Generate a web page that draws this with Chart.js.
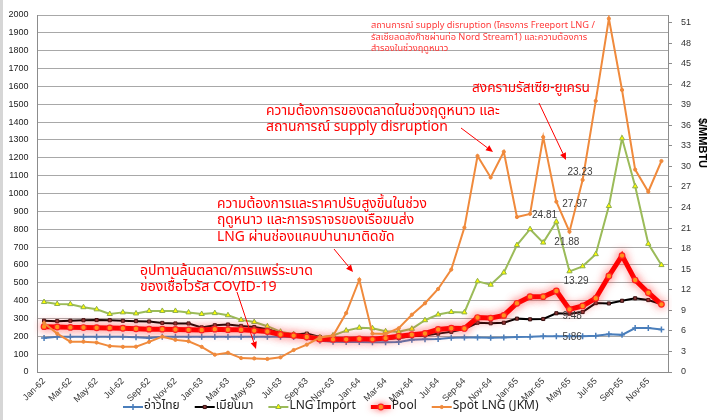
<!DOCTYPE html>
<html>
<head>
<meta charset="utf-8">
<script src="https://cdn.jsdelivr.net/npm/chart.js@4.4.1/dist/chart.umd.min.js"></script>
<style>
html,body{margin:0;padding:0;background:#fff;}
#c{display:block;}
</style>
</head>
<body>
<canvas id="c" width="708" height="420"></canvas>
<script>
// ---------- DATA ----------
const categories = [
 'Jan-62','Feb-62','Mar-62','Apr-62','May-62','Jun-62','Jul-62','Aug-62','Sep-62','Oct-62','Nov-62','Dec-62',
 'Jan-63','Feb-63','Mar-63','Apr-63','May-63','Jun-63','Jul-63','Aug-63','Sep-63','Oct-63','Nov-63','Dec-63',
 'Jan-64','Feb-64','Mar-64','Apr-64','May-64','Jun-64','Jul-64','Aug-64','Sep-64','Oct-64','Nov-64','Dec-64',
 'Jan-65','Feb-65','Mar-65','Apr-65','May-65','Jun-65','Jul-65','Aug-65','Sep-65','Oct-65','Nov-65','Dec-65'
];
const gulfThai = [190,197,198,198,198,197,197,195,190,197,198,198,
                  198,198,198,198,198,198,198,196,193,175,170,168,
                  168,167,167,168,180,183,185,192,193,193,192,193,
                  196,197,200,200,200,200,203,212,208,246,246,238];
const myanmar  = [287,285,287,290,291,290,287,285,283,275,272,272,
                  250,262,266,258,252,240,220,210,215,196,185,185,
                  185,185,185,190,200,205,215,225,240,276,273,276,
                  299,295,297,329,327,336,386,384,399,413,403,379];
const lngImport= [392,381,380,363,351,325,334,328,342,342,342,334,
                  325,330,318,292,280,256,226,212,205,195,205,232,
                  248,245,228,225,242,290,322,336,334,508,489,557,
                  711,800,725,842,564,592,660,930,1309,1040,718,599];
const pool     = [254,252,250,249,248,247,245,242,240,240,238,236,
                  235,240,237,237,232,227,210,204,196,184,183,183,
                  186,183,190,200,209,216,238,245,244,305,302,317,
                  385,422,422,454,351,370,413,538,652,515,444,379];
const spotJKM  = [274,215,170,170,165,145,141,142,169,198,180,172,
                  141,97,108,78,76,73,82,123,153,193,203,330,
                  517,215,213,245,321,385,465,574,809,1210,1090,1234,
                  868,886,1316,954,786,1076,1519,1980,1580,1134,1010,1182];
const seriesNames = ['อ่าวไทย','เมียนมา','LNG Import','Pool','Spot LNG (JKM)'];
const leftMax = 2000, leftStep = 100;
const rightMax = 52.1, rightStep = 3;
const rightTitle = '$/MMBTU';
// value labels: [text, category index (fractional), left-axis value]
const valueLabelText = ['23.23','27.97','24.81','21.88','13.29','9.48','5.86'];
const valueLabelIdx  = [40.8, 40.4, 38.1, 39.8, 40.5, 40.2, 40.2];
const valueLabelVal  = [1120, 941, 880, 728, 510, 314, 196];

// ---------- STYLE ----------
const THAI = '"Noto Sans Thai","Noto Sans Thai UI","Tahoma","Loma","Garuda","Noto Sans","DejaVu Sans",sans-serif';
const LAT = '"Liberation Sans",Arial,sans-serif';
const styles = [
  {color:'#4a7ebb', pointStyle:'cross', radius:3, bw:1.5, bg:'#4a7ebb', pb:'#4a7ebb', width:2},
  {color:'#000000', pointStyle:'rect', radius:2.2, bw:1, bg:'#8b3a3a', pb:'#3a1010', width:2},
  {color:'#9bbb59', pointStyle:'triangle', radius:3, bw:1, bg:'#ffff00', pb:'#8fae4f', width:2},
  {color:'#ff0000', pointStyle:'circle', radius:2.8, bw:1.2, bg:'#ff9a1a', pb:'#ff2020', width:5},
  {color:'#f08a3c', pointStyle:'circle', radius:1.6, bw:1, bg:'#f08a3c', pb:'#f08a3c', width:2}
];
const seriesData = [gulfThai, myanmar, lngImport, pool, spotJKM];
const orders = [5,4,3,2,1];

const datasets = seriesData.map((d,i)=>({
  label: seriesNames[i], data: d, yAxisID:'y',
  borderColor: styles[i].color, borderWidth: styles[i].width,
  backgroundColor: styles[i].bg, pointBackgroundColor: styles[i].bg,
  pointBorderColor: styles[i].pb, pointBorderWidth: styles[i].bw,
  pointStyle: styles[i].pointStyle, pointRadius: styles[i].radius,
  pointHoverRadius: styles[i].radius, tension:0, fill:false, order: orders[i]
}));

const notes = [
 {lines:['สถานการณ์ supply disruption (โครงการ Freeport LNG /','รัสเซียลดส่งก๊าซผ่านท่อ Nord Stream1) และความต้องการ','สำรองในช่วงฤดูหนาว'], x:371, y:26, w:224, lh:11.7, color:'#ff3a3a'},
 {lines:['สงครามรัสเซีย-ยูเครน'], x:472, y:89, w:118, lh:16, color:'#ff0000'},
 {lines:['ความต้องการของตลาดในช่วงฤดูหนาว และ','สถานการณ์ supply disruption'], x:266, y:112, w:234, lh:16, color:'#ff0000'},
 {lines:['ความต้องการและราคาปรับสูงขึ้นในช่วง','ฤดูหนาว และการจราจรของเรือขนส่ง','LNG ผ่านช่องแคบปานามาติดขัด'], x:217, y:205, w:210, lh:16.5, color:'#ff0000'},
 {lines:['อุปทานล้นตลาด/การแพร่ระบาด','ของเชื้อไวรัส COVID-19'], x:140, y:272, w:173, lh:16, color:'#ff0000'}
];
const arrows = [
 [237,292,256,349],[334,249,353,272],[461,128,493,152],[539,103,566,160]
];

const decor = {
  id:'decor',
  beforeDraw(chart){
    const ctx = chart.ctx;
    ctx.save();
    ctx.fillStyle='#ffffff'; ctx.fillRect(0,0,chart.width,chart.height);
    ctx.fillStyle='#d6d6d6'; ctx.fillRect(0,0,3,chart.height);
    ctx.restore();
  },
  beforeDatasetDraw(chart,args){
    if(args.index===3){
      const ctx=chart.ctx; ctx.save();
      ctx.shadowColor='rgba(255,60,60,0.55)'; ctx.shadowBlur=8;
    }
  },
  afterDatasetDraw(chart,args){
    if(args.index===3){ chart.ctx.restore(); }
  },
  afterDraw(chart){
    const ctx = chart.ctx;
    const xs = chart.scales.x, ys = chart.scales.y;
    ctx.save();
    // value labels
    ctx.font = '10px '+LAT; ctx.fillStyle='#404040';
    ctx.textAlign='center'; ctx.textBaseline='middle';
    valueLabelText.forEach((t,i)=>{
      ctx.fillText(t, xs.getPixelForValue(valueLabelIdx[i]), ys.getPixelForValue(valueLabelVal[i]));
    });
    // notes
    ctx.textAlign='left'; ctx.textBaseline='middle';
    notes.forEach(n=>{
      ctx.font = '20px '+THAI;
      const m = ctx.measureText(n.lines[0]).width;
      const size = 20*n.w/m;
      ctx.font = size.toFixed(2)+'px '+THAI;
      ctx.fillStyle = n.color;
      n.lines.forEach((l,k)=>ctx.fillText(l, n.x, n.y + k*n.lh));
    });
    // arrows
    ctx.strokeStyle='#ff0000'; ctx.fillStyle='#ff0000'; ctx.lineWidth=1;
    arrows.forEach(a=>{
      const [x1,y1,x2,y2]=a;
      const ang=Math.atan2(y2-y1,x2-x1), L=7, W=3.2;
      const bx=x2-L*Math.cos(ang), by=y2-L*Math.sin(ang);
      ctx.beginPath(); ctx.moveTo(x1,y1); ctx.lineTo(bx,by); ctx.stroke();
      ctx.beginPath(); ctx.moveTo(x2,y2);
      ctx.lineTo(bx+W*Math.sin(ang), by-W*Math.cos(ang));
      ctx.lineTo(bx-W*Math.sin(ang), by+W*Math.cos(ang));
      ctx.closePath(); ctx.fill();
    });
    // right axis title
    ctx.save();
    ctx.translate(702,143); ctx.rotate(Math.PI/2);
    ctx.font='bold 11px '+LAT; ctx.fillStyle='#000'; ctx.textAlign='center'; ctx.textBaseline='middle';
    ctx.fillText(rightTitle,0,0);
    ctx.restore();
    // legend
    const ly = 407;
    let x = 123;
    ctx.textBaseline='middle'; ctx.textAlign='left';
    seriesNames.forEach((name,i)=>{
      const s = styles[i];
      ctx.save();
      if(i===3){ ctx.shadowColor='rgba(255,60,60,0.55)'; ctx.shadowBlur=6; }
      ctx.strokeStyle=s.color; ctx.lineWidth=(i===3?4:2);
      ctx.beginPath(); ctx.moveTo(x,ly); ctx.lineTo(x+20,ly); ctx.stroke();
      ctx.fillStyle=s.bg; ctx.strokeStyle=s.pb; ctx.lineWidth=s.bw;
      Chart.helpers.drawPoint(ctx,{pointStyle:s.pointStyle,radius:s.radius,borderWidth:s.bw,rotation:0},x+10,ly);
      ctx.restore();
      ctx.font='12px '+THAI; ctx.fillStyle='#222';
      ctx.fillText(name, x+21, ly);
      x += 21 + ctx.measureText(name).width + 15;
    });
    ctx.restore();
  }
};

new Chart(document.getElementById('c'), {
  type:'line',
  data:{labels:categories, datasets},
  options:{
    responsive:false, animation:false, devicePixelRatio:1,
    layout:{padding:{top:15,left:0,right:0,bottom:0}},
    plugins:{legend:{display:false}, tooltip:{enabled:false}},
    scales:{
      x:{
        offset:true,
        grid:{display:false, drawTicks:false},
        border:{color:'#8c8c8c'},
        ticks:{autoSkip:false, minRotation:45, maxRotation:45, padding:4,
               font:{size:9, family:LAT}, color:'#333',
               callback:(v,i)=> i%2===0 ? categories[i] : ''},
        afterFit:s=>{s.height=48;}
      },
      y:{
        position:'left', min:0, max:leftMax,
        ticks:{stepSize:leftStep, padding:9, font:{size:9, family:LAT}, color:'#222',
               callback:v=>String(v)},
        grid:{color:'#a8a8a8', drawTicks:false},
        border:{color:'#8c8c8c'},
        afterFit:s=>{s.width=37.5;}
      },
      y1:{
        position:'right', min:0, max:rightMax,
        ticks:{stepSize:rightStep, includeBounds:false, padding:9, font:{size:9, family:LAT}, color:'#333',
               callback:v=>String(v)},
        grid:{drawOnChartArea:false, tickLength:4, color:'#8c8c8c'},
        border:{color:'#8c8c8c'},
        afterBuildTicks:s=>{s.ticks = s.ticks.filter(t=>Math.abs(t.value/rightStep-Math.round(t.value/rightStep))<1e-6);},
        afterFit:s=>{s.width=40;}
      }
    }
  },
  plugins:[decor]
});
</script>
</body>
</html>
